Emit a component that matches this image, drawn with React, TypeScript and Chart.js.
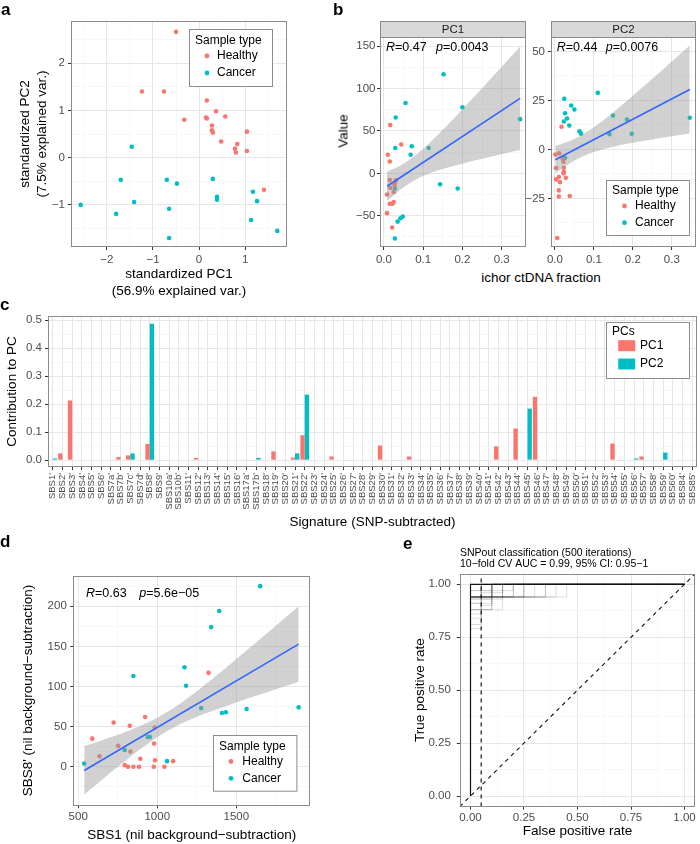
import React, { useEffect, useRef } from 'react';
import { Chart, registerables } from 'chart.js';

Chart.register(...registerables);

const FONT = '"Liberation Sans", Arial, Helvetica, sans-serif';
const RED = '#F8766D';
const CYAN = '#00BFC4';
const BLUE = '#3366FF';
const TICK_TEXT = '#4D4D4D';
const GRID_MAJOR = '#E6E6E6';
const GRID_MINOR = '#F3F3F3';
const FRAME = '#8C8C8C';
const BAND = 'rgba(153,153,153,0.45)';

// ---------- a: PCA ----------
const pcaHealthyX = [-0.5, -1.24, -0.76, 0.17, 0.37, 0.57, -0.32, 0.15, 0.17, 0.28, 0.28, 0.3, 0.48, 1.04, 0.83, 0.78, 0.8, 1.04, 1.41];
const pcaHealthyY = [2.66, 1.4, 1.4, 1.21, 0.98, 0.87, 0.8, 0.85, 0.83, 0.68, 0.58, 0.53, 0.34, 0.55, 0.29, 0.19, 0.11, 0.14, -0.68];
const pcaCancerX = [-1.46, -1.7, -0.7, -0.48, 0.3, 0.39, 0.39, 1.17, 1.26, -1.41, -2.57, -0.65, -1.8, 1.13, -0.65, 1.7];
const pcaCancerY = [0.23, -0.47, -0.47, -0.55, -0.45, -0.83, -0.89, -0.72, -0.92, -0.94, -1.0, -1.08, -1.19, -1.32, -1.7, -1.55];

// ---------- b: PC value vs ichor ctDNA fraction ----------
const pc1HealthyX = [0.016, 0.044, 0.01, 0.015, 0.015, 0.031, 0.028, 0.027, 0.016, 0.025, 0.008, 0.015, 0.022, 0.025, 0.008, 0.021];
const pc1HealthyY = [57, 34, 22, 14, -8, -8, -11, -14, -17, -22, -25, -36, -36, -34, -47, -64];
const pc1CancerX = [0.152, 0.055, 0.03, 0.2, 0.347, 0.114, 0.071, 0.029, 0.068, 0.143, 0.188, 0.028, 0.048, 0.042, 0.035, 0.028];
const pc1CancerY = [117, 83, 66, 78, 64, 30, 32, 30, 22, -13, -18, -18, -51, -53, -57, -77];
const fitPC1X = [0.008, 0.347];
const fitPC1Y = [-15.3, 88.6];
const bandPC1X = [0.008, 0.05, 0.1, 0.15, 0.2, 0.25, 0.3, 0.347];
const bandPC1Lo = [-32.8, -16.4, -3.2, 5.0, 11.4, 17.1, 22.6, 27.6];
const bandPC1Hi = [2.2, 11.4, 29.0, 51.4, 75.6, 100.5, 125.8, 149.6];

const pc2HealthyX = [0.017, 0.001, 0.011, 0.02, 0.022, 0.003, 0.023, 0.023, 0.022, 0.01, 0.003, 0.028, 0.013, 0.01, 0.01, 0.038, 0.006];
const pc2HealthyY = [11.6, -2.6, -2.0, -4.8, -6.3, -9.5, -9.4, -11.4, -12.1, -14.1, -15.3, -14.5, -16.7, -20.9, -24.0, -23.8, -45.2];
const pc2CancerX = [0.11, 0.024, 0.042, 0.05, 0.026, 0.031, 0.023, 0.037, 0.149, 0.185, 0.346, 0.063, 0.067, 0.14, 0.197, 0.026];
const pc2CancerY = [28.9, 25.9, 22.4, 20.4, 18.5, 15.8, 14.3, 12.2, 17.3, 15.3, 16.2, 9.3, 8.0, 7.8, 8.0, -4.3];
const fitPC2X = [0.001, 0.346];
const fitPC2Y = [-5.3, 30.6];
const bandPC2X = [0.001, 0.05, 0.1, 0.15, 0.2, 0.25, 0.3, 0.346];
const bandPC2Lo = [-12.3, -5.7, -1.3, 1.4, 3.4, 5.1, 6.7, 8.1];
const bandPC2Hi = [1.7, 5.3, 11.3, 19.0, 27.4, 36.1, 44.9, 53.1];

// ---------- c: contributions ----------
const sigLabels = [
  "SBS1'", "SBS2'", "SBS3'", "SBS4'", "SBS5'", "SBS6'", "SBS7a'", "SBS7b'", "SBS7c'", "SBS7d'",
  "SBS8'", "SBS9'", "SBS10a'", "SBS10b'", "SBS11'", "SBS12'", "SBS13'", "SBS14'", "SBS15'", "SBS16'",
  "SBS17a'", "SBS17b'", "SBS18'", "SBS19'", "SBS20'", "SBS21'", "SBS22'", "SBS23'", "SBS24'", "SBS25'",
  "SBS26'", "SBS27'", "SBS28'", "SBS29'", "SBS30'", "SBS31'", "SBS32'", "SBS33'", "SBS34'", "SBS35'",
  "SBS36'", "SBS37'", "SBS38'", "SBS39'", "SBS40'", "SBS41'", "SBS42'", "SBS43'", "SBS44'", "SBS45'",
  "SBS46'", "SBS47'", "SBS48'", "SBS49'", "SBS50'", "SBS51'", "SBS52'", "SBS53'", "SBS54'", "SBS55'",
  "SBS56'", "SBS57'", "SBS58'", "SBS59'", "SBS60'", "SBS84'", "SBS85'",
];
const pc1Contrib = [
  0, 0.024, 0.213, 0, 0, 0, 0, 0.011, 0.017, 0,
  0.058, 0, 0, 0, 0, 0.008, 0, 0, 0, 0,
  0.002, 0, 0, 0.031, 0.002, 0.009, 0.089, 0, 0, 0.013,
  0, 0, 0, 0, 0.052, 0, 0, 0.013, 0.002, 0,
  0, 0, 0, 0, 0, 0, 0.049, 0.002, 0.113, 0,
  0.226, 0, 0.001, 0, 0, 0, 0, 0, 0.059, 0,
  0, 0.013, 0, 0.002, 0, 0, 0,
];
const pc2Contrib = [
  0.006, 0, 0, 0, 0, 0, 0, 0, 0.024, 0,
  0.487, 0, 0, 0, 0, 0, 0, 0, 0, 0,
  0, 0.008, 0, 0, 0, 0.024, 0.234, 0, 0, 0,
  0, 0, 0, 0, 0, 0, 0, 0, 0, 0,
  0, 0, 0, 0, 0, 0, 0, 0, 0, 0.184,
  0, 0, 0, 0, 0, 0, 0, 0, 0, 0,
  0.006, 0, 0, 0.027, 0, 0, 0,
];

// ---------- d: SBS8' vs SBS1 ----------
const dHealthyX = [1324, 923, 724, 826, 984, 589, 753, 980, 830, 635, 893, 986, 1100, 794, 815, 849, 885, 978, 1045];
const dHealthyY = [117, 62, 55, 51, 49, 35, 26, 29, 19, 13, 10, 8, 7, 2, 0, 0, 0, 0, 0];
const dCancerX = [1651, 1392, 1341, 1172, 849, 1182, 1278, 1409, 1434, 1565, 1894, 940, 954, 794, 538, 1062];
const dCancerY = [225, 194, 174, 124, 113, 101, 73, 67, 68, 72, 74, 37, 37, 21, 4, 7];
const fitDX = [538, 1894];
const fitDY = [-4.6, 152.8];
const bandDX = [538, 700, 850, 1000, 1150, 1300, 1450, 1600, 1750, 1894];
const bandDLo = [-34.6, -8.0, 15.7, 36.9, 53.5, 65.9, 76.6, 86.8, 96.6, 105.8];
const bandDHi = [25.4, 36.4, 47.5, 61.1, 79.3, 101.7, 125.8, 150.6, 175.6, 199.8];

// ---------- e: ROC ----------
const rocMainFpr = [0, 0, 1];
const rocMainTpr = [0, 1, 1];
const fprCutoff = 0.05;
const rocIterations: number[][][] = [
  [[0, 0], [0, 0.94], [0.05, 0.94], [0.05, 1], [1, 1]],
  [[0, 0], [0, 0.94], [0.05, 0.94], [0.05, 1], [1, 1]],
  [[0, 0], [0, 0.94], [0.05, 0.94], [0.05, 1], [1, 1]],
  [[0, 0], [0, 0.94], [0.1, 0.94], [0.1, 1], [1, 1]],
  [[0, 0], [0, 0.94], [0.1, 0.94], [0.1, 1], [1, 1]],
  [[0, 0], [0, 0.94], [0.1, 0.94], [0.1, 1], [1, 1]],
  [[0, 0], [0, 0.94], [0.15, 0.94], [0.15, 1], [1, 1]],
  [[0, 0], [0, 0.94], [0.15, 0.94], [0.15, 1], [1, 1]],
  [[0, 0], [0, 0.94], [0.2, 0.94], [0.2, 1], [1, 1]],
  [[0, 0], [0, 0.94], [0.25, 0.94], [0.25, 1], [1, 1]],
  [[0, 0], [0, 0.94], [0.3, 0.94], [0.3, 1], [1, 1]],
  [[0, 0], [0, 0.94], [0.45, 0.94], [0.45, 1], [1, 1]],
  [[0, 0], [0, 0.93], [0.05, 0.93], [0.05, 0.97], [0.1, 0.97], [0.1, 1], [1, 1]],
  [[0, 0], [0, 0.93], [0.1, 0.93], [0.1, 1], [1, 1]],
  [[0, 0], [0, 0.91], [0.05, 0.91], [0.05, 0.96], [0.15, 0.96], [0.15, 1], [1, 1]],
  [[0, 0], [0, 0.88], [0.05, 0.88], [0.05, 0.94], [0.1, 0.94], [0.1, 1], [1, 1]],
  [[0, 0], [0, 0.88], [0.1, 0.88], [0.1, 0.94], [0.2, 0.94], [0.2, 1], [1, 1]],
  [[0, 0], [0, 0.88], [0.05, 0.88], [0.05, 0.94], [0.35, 0.94], [0.35, 1], [1, 1]],
  [[0, 0], [0, 0.86], [0.05, 0.86], [0.05, 0.93], [0.15, 0.93], [0.15, 1], [1, 1]],
  [[0, 0], [0, 0.84], [0.05, 0.84], [0.05, 0.9], [0.1, 0.9], [0.1, 1], [1, 1]],
  [[0, 0], [0, 0.81], [0.05, 0.81], [0.05, 0.88], [0.15, 0.88], [0.15, 0.94], [0.25, 0.94], [0.25, 1], [1, 1]],
  [[0, 0], [0, 0.79], [0.05, 0.79], [0.05, 0.88], [0.1, 0.88], [0.1, 1], [1, 1]],
  [[0, 0], [0, 0.97], [0.05, 0.97], [0.05, 1], [1, 1]],
  [[0, 0], [0, 0.97], [0.2, 0.97], [0.2, 1], [1, 1]],
  [[0, 0], [0, 0.94], [0.35, 0.94], [0.35, 1], [1, 1]],
  [[0, 0], [0, 0.91], [0.1, 0.91], [0.1, 0.94], [0.4, 0.94], [0.4, 1], [1, 1]],
];

// ---------- helpers ----------
const pts = (xs: number[], ys: number[]) => xs.map((x, i) => ({ x, y: ys[i] }));

function fmt(v: number, digits: number) {
  const s = Math.abs(v).toFixed(digits);
  return (v < -1e-9 ? '\u2212' : '') + s;
}

function fixSize(pos: 'x' | 'y', size: number) {
  return (s: any) => {
    if (pos === 'x') s.height = size;
    else s.width = size;
    s.paddingLeft = 0;
    s.paddingRight = 0;
    s.paddingTop = 0;
    s.paddingBottom = 0;
  };
}

function axisTitle(text: any, top: number, bottom: number) {
  return {
    display: true,
    text,
    color: '#000000',
    font: { family: FONT, size: 13.5, lineHeight: 1.25 },
    padding: { top, bottom },
  };
}

function linAxis(o: {
  pos: 'x' | 'y'; min: number; max: number; step: number; major: number; digits: number;
  size: number; tickPad: number; title?: any; titleTop?: number; titleBottom?: number;
}) {
  const isMajor = (v: number) => Math.abs(v / o.major - Math.round(v / o.major)) < 1e-6;
  return {
    type: 'linear',
    position: o.pos === 'x' ? 'bottom' : 'left',
    min: o.min,
    max: o.max,
    border: { display: false },
    grid: {
      color: (c: any) => (c.tick && isMajor(c.tick.value) ? GRID_MAJOR : GRID_MINOR),
      lineWidth: (c: any) => (c.tick && isMajor(c.tick.value) ? 1 : 0.7),
      tickColor: (c: any) => (c.tick && isMajor(c.tick.value) ? '#333333' : 'rgba(0,0,0,0)'),
      tickLength: 3,
      tickWidth: 1,
    },
    ticks: {
      stepSize: o.step,
      includeBounds: false,
      autoSkip: false,
      maxRotation: 0,
      minRotation: 0,
      padding: o.tickPad,
      color: TICK_TEXT,
      font: { family: FONT, size: 11.5 },
      callback: (v: number) => (isMajor(v) ? fmt(v, o.digits) : ''),
    },
    afterBuildTicks: (s: any) => {
      const t: { value: number }[] = [];
      const start = Math.ceil(o.min / o.step - 1e-9);
      const end = Math.floor(o.max / o.step + 1e-9);
      for (let k = start; k <= end; k++) t.push({ value: +(k * o.step).toFixed(6) });
      s.ticks = t;
    },
    title: o.title ? axisTitle(o.title, o.titleTop ?? 0, o.titleBottom ?? 0) : { display: false },
    afterFit: fixSize(o.pos, o.size),
  };
}

type LegendSpec = {
  box: number[]; title: string; titleAt: number[]; keyX: number; labelX: number;
  rows: number[]; labels: string[]; colors: string[]; kind: 'dot' | 'rect';
};
type Deco = {
  ox: number; oy: number; strip?: string; legend?: LegendSpec;
  rp?: { r: string; p: string; x: number; px: number; y: number };
  notes?: { text: string; x: number; y: number; size: number }[];
};

function decoPlugin(d: Deco) {
  return {
    id: 'deco',
    afterDraw(chart: any) {
      const ctx = chart.ctx;
      const a = chart.chartArea;
      ctx.save();
      const X = (v: number) => v - d.ox;
      const Y = (v: number) => v - d.oy;
      if (d.strip) {
        ctx.fillStyle = '#D9D9D9';
        ctx.fillRect(a.left, a.top - 16, a.right - a.left, 16);
        ctx.strokeStyle = FRAME;
        ctx.lineWidth = 1;
        ctx.strokeRect(Math.round(a.left) + 0.5, Math.round(a.top - 16) + 0.5, Math.round(a.right - a.left) - 1, 16);
        ctx.fillStyle = '#1A1A1A';
        ctx.font = `11.5px ${FONT}`;
        ctx.textAlign = 'center';
        ctx.textBaseline = 'middle';
        ctx.fillText(d.strip, (a.left + a.right) / 2, a.top - 7.5);
      }
      if (d.rp) {
        ctx.fillStyle = '#000';
        ctx.textAlign = 'left';
        ctx.textBaseline = 'middle';
        let x = X(d.rp.x);
        const y = Y(d.rp.y);
        ctx.font = `italic 12.5px ${FONT}`;
        ctx.fillText('R', x, y);
        x += ctx.measureText('R').width;
        ctx.font = `12.5px ${FONT}`;
        ctx.fillText(d.rp.r, x, y);
        x = X(d.rp.px);
        ctx.font = `italic 12.5px ${FONT}`;
        ctx.fillText('p', x, y);
        x += ctx.measureText('p').width;
        ctx.font = `12.5px ${FONT}`;
        ctx.fillText(d.rp.p, x, y);
      }
      if (d.notes) {
        ctx.fillStyle = '#000';
        ctx.textAlign = 'left';
        ctx.textBaseline = 'middle';
        for (const n of d.notes) {
          ctx.font = `${n.size}px ${FONT}`;
          ctx.fillText(n.text, X(n.x), Y(n.y));
        }
      }
      if (d.legend) {
        const L = d.legend;
        const [bx, by, bw, bh] = L.box;
        ctx.fillStyle = '#FFFFFF';
        ctx.fillRect(X(bx), Y(by), bw, bh);
        ctx.strokeStyle = FRAME;
        ctx.lineWidth = 1;
        ctx.strokeRect(Math.round(X(bx)) + 0.5, Math.round(Y(by)) + 0.5, bw, bh);
        ctx.fillStyle = '#000';
        ctx.font = `12px ${FONT}`;
        ctx.textAlign = 'left';
        ctx.textBaseline = 'middle';
        ctx.fillText(L.title, X(L.titleAt[0]), Y(L.titleAt[1]));
        L.labels.forEach((lab, i) => {
          ctx.fillStyle = L.colors[i];
          if (L.kind === 'dot') {
            ctx.beginPath();
            ctx.arc(X(L.keyX), Y(L.rows[i]), 2.4, 0, Math.PI * 2);
            ctx.fill();
          } else {
            ctx.fillRect(X(L.keyX) - 8.5, Y(L.rows[i]) - 5.5, 17, 11);
          }
          ctx.fillStyle = '#000';
          ctx.fillText(lab, X(L.labelX), Y(L.rows[i]));
        });
      }
      ctx.strokeStyle = FRAME;
      ctx.lineWidth = 1;
      ctx.strokeRect(Math.round(a.left) + 0.5, Math.round(a.top) + 0.5, Math.round(a.right - a.left) - 1, Math.round(a.bottom - a.top) - 1);
      ctx.restore();
    },
  };
}

function baseOptions(padding: any) {
  return {
    responsive: false,
    maintainAspectRatio: false,
    animation: false,
    devicePixelRatio: 1,
    events: [],
    layout: { padding },
    plugins: { legend: { display: false }, tooltip: { enabled: false }, title: { display: false } },
  };
}

const pointDs = (xs: number[], ys: number[], color: string) => ({
  type: 'scatter',
  data: pts(xs, ys),
  backgroundColor: color,
  borderWidth: 0,
  pointRadius: 2.3,
  order: 3,
});

const smoothSet = (bx: number[], lo: number[], hi: number[], fx: number[], fy: number[]) => [
  { type: 'line', data: pts(bx, lo), borderColor: 'rgba(0,0,0,0)', borderWidth: 0, pointRadius: 0, fill: false, cubicInterpolationMode: 'monotone', order: 2 },
  { type: 'line', data: pts(bx, hi), borderColor: 'rgba(0,0,0,0)', borderWidth: 0, pointRadius: 0, fill: '-1', backgroundColor: BAND, cubicInterpolationMode: 'monotone', order: 2 },
  { type: 'line', data: pts(fx, fy), borderColor: BLUE, borderWidth: 1.6, pointRadius: 0, fill: false, order: 1 },
];

const sampleLegend = (box: number[], titleAt: number[], keyX: number, labelX: number, rows: number[]): LegendSpec => ({
  box, title: 'Sample type', titleAt, keyX, labelX, rows, labels: ['Healthy', 'Cancer'], colors: [RED, CYAN], kind: 'dot',
});

// ---------- chart configs ----------
const configA = () => ({
  type: 'scatter',
  data: { datasets: [pointDs(pcaHealthyX, pcaHealthyY, RED), pointDs(pcaCancerX, pcaCancerY, CYAN)] },
  options: {
    ...baseOptions({ top: 21, right: 13, left: 0, bottom: 0 }),
    scales: {
      x: linAxis({ pos: 'x', min: -2.78, max: 1.91, step: 0.5, major: 1, digits: 0, size: 53, tickPad: 3, title: ['standardized PC1', '(56.9% explained var.)'], titleBottom: 0 }),
      y: linAxis({ pos: 'y', min: -1.89, max: 2.89, step: 0.5, major: 1, digits: 0, size: 71, tickPad: 3, title: ['standardized PC2', '(7.5% explained var.)'], titleTop: 16.5 }),
    },
  },
  plugins: [decoPlugin({ ox: 0, oy: 0, legend: sampleLegend([189, 29, 83, 57], [195, 40.5], 207, 217, [56, 73]) })],
});

const configPC1 = () => ({
  type: 'scatter',
  data: {
    datasets: [
      ...smoothSet(bandPC1X, bandPC1Lo, bandPC1Hi, fitPC1X, fitPC1Y),
      pointDs(pc1HealthyX, pc1HealthyY, RED),
      pointDs(pc1CancerX, pc1CancerY, CYAN),
    ],
  },
  options: {
    ...baseOptions({ top: 37, right: 3, left: 0, bottom: 0 }),
    scales: {
      x: linAxis({ pos: 'x', min: -0.01, max: 0.362, step: 0.05, major: 0.1, digits: 1, size: 18, tickPad: 2.5 }),
      y: linAxis({ pos: 'y', min: -87, max: 161, step: 25, major: 50, digits: 0, size: 45, tickPad: 1.5 }),
    },
  },
  plugins: [decoPlugin({ ox: 335, oy: 0, strip: 'PC1', rp: { r: '=0.47', p: '=0.0043', x: 386, px: 436, y: 47.7 } })],
});

const configPC2 = () => ({
  type: 'scatter',
  data: {
    datasets: [
      ...smoothSet(bandPC2X, bandPC2Lo, bandPC2Hi, fitPC2X, fitPC2Y),
      pointDs(pc2HealthyX, pc2HealthyY, RED),
      pointDs(pc2CancerX, pc2CancerY, CYAN),
    ],
  },
  options: {
    ...baseOptions({ top: 37, right: 2, left: 0, bottom: 0 }),
    scales: {
      x: linAxis({ pos: 'x', min: -0.01, max: 0.362, step: 0.05, major: 0.1, digits: 1, size: 18, tickPad: 2.5 }),
      y: linAxis({ pos: 'y', min: -49.8, max: 57.4, step: 12.5, major: 25, digits: 0, size: 31, tickPad: 3 }),
    },
  },
  plugins: [decoPlugin({
    ox: 520, oy: 0, strip: 'PC2',
    rp: { r: '=0.44', p: '=0.0076', x: 556.7, px: 605.7, y: 47.7 },
    legend: sampleLegend([606, 180, 83, 55], [612, 190.5], 624.5, 635, [206, 222.7]),
  })],
});

const configC = () => ({
  type: 'bar',
  data: {
    labels: sigLabels,
    datasets: [
      { label: 'PC1', data: pc1Contrib, backgroundColor: RED, borderWidth: 0, categoryPercentage: 0.9, barPercentage: 1.0 },
      { label: 'PC2', data: pc2Contrib, backgroundColor: CYAN, borderWidth: 0, categoryPercentage: 0.9, barPercentage: 1.0 },
    ],
  },
  options: {
    ...baseOptions({ top: 16, right: 3, left: 0, bottom: 0 }),
    scales: {
      x: {
        type: 'category',
        offset: true,
        border: { display: false },
        grid: { offset: false, color: GRID_MAJOR, lineWidth: 1, tickColor: '#333333', tickLength: 3 },
        ticks: { autoSkip: false, minRotation: 90, maxRotation: 90, padding: 3, color: TICK_TEXT, font: { family: FONT, size: 9.5 } },
        title: axisTitle('Signature (SNP-subtracted)', 0, 4.5),
        afterFit: fixSize('x', 68),
      },
      y: linAxis({ pos: 'y', min: -0.0245, max: 0.5145, step: 0.05, major: 0.1, digits: 1, size: 48, tickPad: 3, title: 'Contribution to PC', titleTop: 3.5 }),
    },
  },
  plugins: [decoPlugin({
    ox: 0, oy: 300,
    legend: { box: [606, 321.7, 83, 56], title: 'PCs', titleAt: [612, 332], keyX: 626.7, labelX: 640, rows: [345.7, 364], labels: ['PC1', 'PC2'], colors: [RED, CYAN], kind: 'rect' },
  })],
});

const configD = () => ({
  type: 'scatter',
  data: {
    datasets: [
      ...smoothSet(bandDX, bandDLo, bandDHi, fitDX, fitDY),
      pointDs(dHealthyX, dHealthyY, RED),
      pointDs(dCancerX, dCancerY, CYAN),
    ],
  },
  options: {
    ...baseOptions({ top: 40.7, right: 10, left: 0, bottom: 0 }),
    scales: {
      x: linAxis({ pos: 'x', min: 469, max: 1966, step: 250, major: 500, digits: 0, size: 38.7, tickPad: 2, title: 'SBS1 (nil background\u2212subtraction)', titleBottom: 0.5 }),
      y: linAxis({ pos: 'y', min: -48, max: 238, step: 25, major: 50, digits: 0, size: 73.3, tickPad: 3.5, title: "SBS8' (nil background\u2212subtraction)", titleTop: 19.5 }),
    },
  },
  plugins: [decoPlugin({
    ox: 0, oy: 535,
    rp: { r: '=0.63', p: '=5.6e\u221205', x: 86, px: 139.3, y: 593.3 },
    legend: sampleLegend([213.3, 735, 83.4, 55.7], [219, 746.5], 231, 242.3, [761.5, 778.3]),
  })],
});

const configE = () => ({
  type: 'scatter',
  data: {
    datasets: [
      { type: 'line', data: pts(rocMainFpr, rocMainTpr), borderColor: '#111111', borderWidth: 1.2, pointRadius: 0, fill: false, order: 1 },
      { type: 'line', data: [{ x: -0.05, y: -0.05 }, { x: 1.05, y: 1.05 }], borderColor: '#111111', borderWidth: 1.1, borderDash: [4, 4], pointRadius: 0, fill: false, order: 2 },
      { type: 'line', data: [{ x: fprCutoff, y: -0.05 }, { x: fprCutoff, y: 1.05 }], borderColor: '#111111', borderWidth: 1.2, borderDash: [4, 4], pointRadius: 0, fill: false, order: 2 },
      ...rocIterations.map((curve) => ({
        type: 'line',
        data: curve.map((p) => ({ x: p[0], y: p[1] })),
        borderColor: 'rgba(0,0,0,0.14)',
        borderWidth: 1,
        pointRadius: 0,
        fill: false,
        order: 3,
      })),
    ],
  },
  options: {
    ...baseOptions({ top: 38.7, right: 4.8, left: 0, bottom: 0 }),
    scales: {
      x: linAxis({ pos: 'x', min: -0.05, max: 1.05, step: 0.125, major: 0.25, digits: 2, size: 37.4, tickPad: 1.5, title: 'False positive rate', titleBottom: 3.8 }),
      y: linAxis({ pos: 'y', min: -0.05, max: 1.05, step: 0.125, major: 0.25, digits: 2, size: 59.8, tickPad: 6, title: 'True positive rate', titleTop: 11.5 }),
    },
  },
  plugins: [decoPlugin({
    ox: 400, oy: 535,
    notes: [
      { text: 'SNPout classification (500 iterations)', x: 460, y: 553.5, size: 10.5 },
      { text: '10\u2212fold CV AUC = 0.99, 95% CI: 0.95\u22121', x: 460, y: 564.5, size: 10.5 },
    ],
  })],
});

function ChartCanvas(props: { left: number; top: number; width: number; height: number; config: () => any }) {
  const ref = useRef<HTMLCanvasElement>(null);
  useEffect(() => {
    const chart = new Chart(ref.current as HTMLCanvasElement, props.config());
    return () => chart.destroy();
  }, []);
  return (
    <canvas
      ref={ref}
      width={props.width}
      height={props.height}
      style={{ position: 'absolute', left: props.left, top: props.top, width: props.width, height: props.height, display: 'block' }}
    />
  );
}

const panelLetters: [string, number, number][] = [
  ['a', 1, 0.6],
  ['b', 333, 0.6],
  ['c', 0, 295.6],
  ['d', 0, 532.6],
  ['e', 403, 534.6],
];

export default function App() {
  return (
    <div style={{ position: 'absolute', left: 0, top: 0, width: 700, height: 844, overflow: 'hidden', background: '#FFFFFF', fontFamily: FONT }}>
      <ChartCanvas left={0} top={0} width={300} height={300} config={configA} />
      <ChartCanvas left={335} top={0} width={195} height={265} config={configPC1} />
      <ChartCanvas left={520} top={0} width={180} height={265} config={configPC2} />
      <ChartCanvas left={0} top={300} width={700} height={235} config={configC} />
      <ChartCanvas left={0} top={535} width={320} height={309} config={configD} />
      <ChartCanvas left={400} top={535} width={300} height={309} config={configE} />
      {panelLetters.map(([t, x, y]) => (
        <div key={t} style={{ position: 'absolute', left: x, top: y, font: `bold 17px ${FONT}`, lineHeight: '17px', color: '#000' }}>{t}</div>
      ))}
      <div style={{ position: 'absolute', left: 343, top: 131, transform: 'translate(-50%,-50%) rotate(-90deg)', fontSize: 13.5, whiteSpace: 'nowrap', color: '#000', lineHeight: '17px' }}>Value</div>
      <div style={{ position: 'absolute', left: 541, top: 277, transform: 'translate(-50%,-50%)', fontSize: 13.5, whiteSpace: 'nowrap', color: '#000', lineHeight: '17px' }}>ichor ctDNA fraction</div>
    </div>
  );
}
